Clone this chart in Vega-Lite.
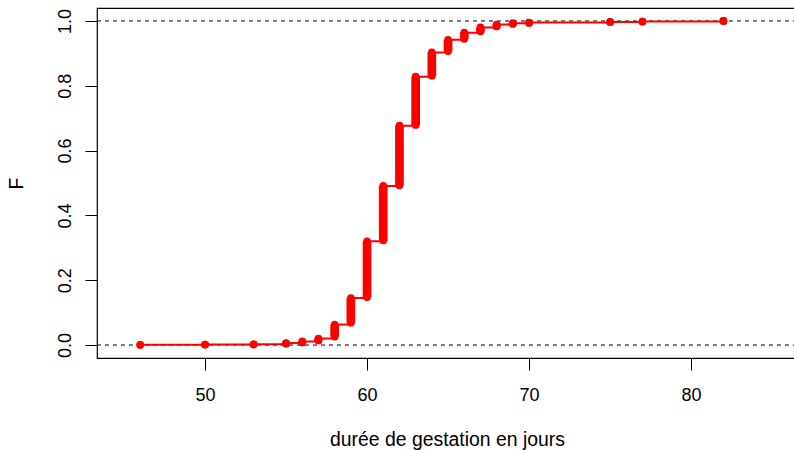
{
  "$schema": "https://vega.github.io/schema/vega-lite/v6.json",
  "width": 700,
  "height": 350,
  "autosize": "none",
  "padding": {"left": 97, "top": 8, "right": 0, "bottom": 92},
  "background": "white",
  "config": {
    "view": {"stroke": "black", "strokeWidth": 1.2},
    "font": "Liberation Sans",
    "axis": {
      "grid": false,
      "domain": false,
      "tickColor": "black",
      "tickSize": 12,
      "tickWidth": 1,
      "labelFont": "Liberation Sans",
      "labelFontSize": 18,
      "labelColor": "black",
      "titleFont": "Liberation Sans",
      "titleFontSize": 19.4,
      "titleFontWeight": "normal",
      "titleColor": "black"
    },
    "axisX": {"labelPadding": 16, "titlePadding": 26, "labelFlush": false},
    "axisY": {"labelPadding": 11, "titlePadding": 30, "labelAngle": -90, "labelAlign": "center", "labelBaseline": "bottom", "labelFlush": false}
  },
  "datasets": {
    "ecdf": [
      {"x": 46, "lo": 0.0007, "hi": 0.0007},
      {"x": 50, "lo": 0.0014, "hi": 0.0014},
      {"x": 53, "lo": 0.0021, "hi": 0.0021},
      {"x": 55, "lo": 0.004, "hi": 0.006},
      {"x": 56, "lo": 0.008, "hi": 0.011},
      {"x": 57, "lo": 0.014, "hi": 0.02},
      {"x": 58, "lo": 0.026, "hi": 0.063},
      {"x": 59, "lo": 0.069, "hi": 0.145},
      {"x": 60, "lo": 0.148, "hi": 0.32},
      {"x": 61, "lo": 0.323, "hi": 0.491},
      {"x": 62, "lo": 0.493, "hi": 0.677},
      {"x": 63, "lo": 0.679, "hi": 0.828},
      {"x": 64, "lo": 0.831, "hi": 0.903},
      {"x": 65, "lo": 0.907, "hi": 0.942},
      {"x": 66, "lo": 0.945, "hi": 0.964},
      {"x": 67, "lo": 0.968, "hi": 0.98},
      {"x": 68, "lo": 0.983, "hi": 0.989},
      {"x": 69, "lo": 0.991, "hi": 0.993},
      {"x": 70, "lo": 0.994, "hi": 0.995},
      {"x": 75, "lo": 0.997, "hi": 0.997},
      {"x": 77, "lo": 0.998, "hi": 0.998},
      {"x": 82, "lo": 1.0, "hi": 1.0}
    ],
    "refs": [{"h": 0}, {"h": 1}]
  },
  "layer": [
    {
      "data": {"name": "refs"},
      "mark": {"type": "rule", "color": "black", "strokeWidth": 1, "strokeDash": [4, 4]},
      "encoding": {
        "y": {"field": "h", "type": "quantitative", "title": "F", "scale": {"domain": [-0.04, 1.04], "nice": false, "zero": false}, "axis": {"values": [0, 0.2, 0.4, 0.6, 0.8, 1.0], "format": ".1f"}}
      }
    },
    {
      "data": {"name": "ecdf"},
      "mark": {"type": "line", "color": "red", "strokeWidth": 2, "interpolate": "step-after"},
      "encoding": {
        "x": {"field": "x", "type": "quantitative", "title": "durée de gestation en jours", "scale": {"domain": [43.33, 86.54], "nice": false, "zero": false}, "axis": {"values": [50, 60, 70, 80]}},
        "y": {"field": "hi", "type": "quantitative", "title": "F", "axis": {"values": [0, 0.2, 0.4, 0.6, 0.8, 1.0], "format": ".1f"}}
      }
    },
    {
      "data": {"name": "ecdf"},
      "mark": {"type": "rule", "color": "red", "strokeWidth": 8.7},
      "encoding": {
        "x": {"field": "x", "type": "quantitative", "title": "durée de gestation en jours", "axis": {"values": [50, 60, 70, 80]}},
        "y": {"field": "lo", "type": "quantitative", "title": "F", "axis": {"values": [0, 0.2, 0.4, 0.6, 0.8, 1.0], "format": ".1f"}},
        "y2": {"field": "hi"}
      }
    },
    {
      "data": {"name": "ecdf"},
      "mark": {"type": "circle", "color": "red", "size": 60, "opacity": 1, "strokeWidth": 0},
      "encoding": {
        "x": {"field": "x", "type": "quantitative", "title": "durée de gestation en jours", "axis": {"values": [50, 60, 70, 80]}},
        "y": {"field": "lo", "type": "quantitative", "title": "F", "axis": {"values": [0, 0.2, 0.4, 0.6, 0.8, 1.0], "format": ".1f"}}
      }
    },
    {
      "data": {"name": "ecdf"},
      "mark": {"type": "circle", "color": "red", "size": 60, "opacity": 1, "strokeWidth": 0},
      "encoding": {
        "x": {"field": "x", "type": "quantitative", "title": "durée de gestation en jours", "axis": {"values": [50, 60, 70, 80]}},
        "y": {"field": "hi", "type": "quantitative", "title": "F", "axis": {"values": [0, 0.2, 0.4, 0.6, 0.8, 1.0], "format": ".1f"}}
      }
    }
  ]
}
